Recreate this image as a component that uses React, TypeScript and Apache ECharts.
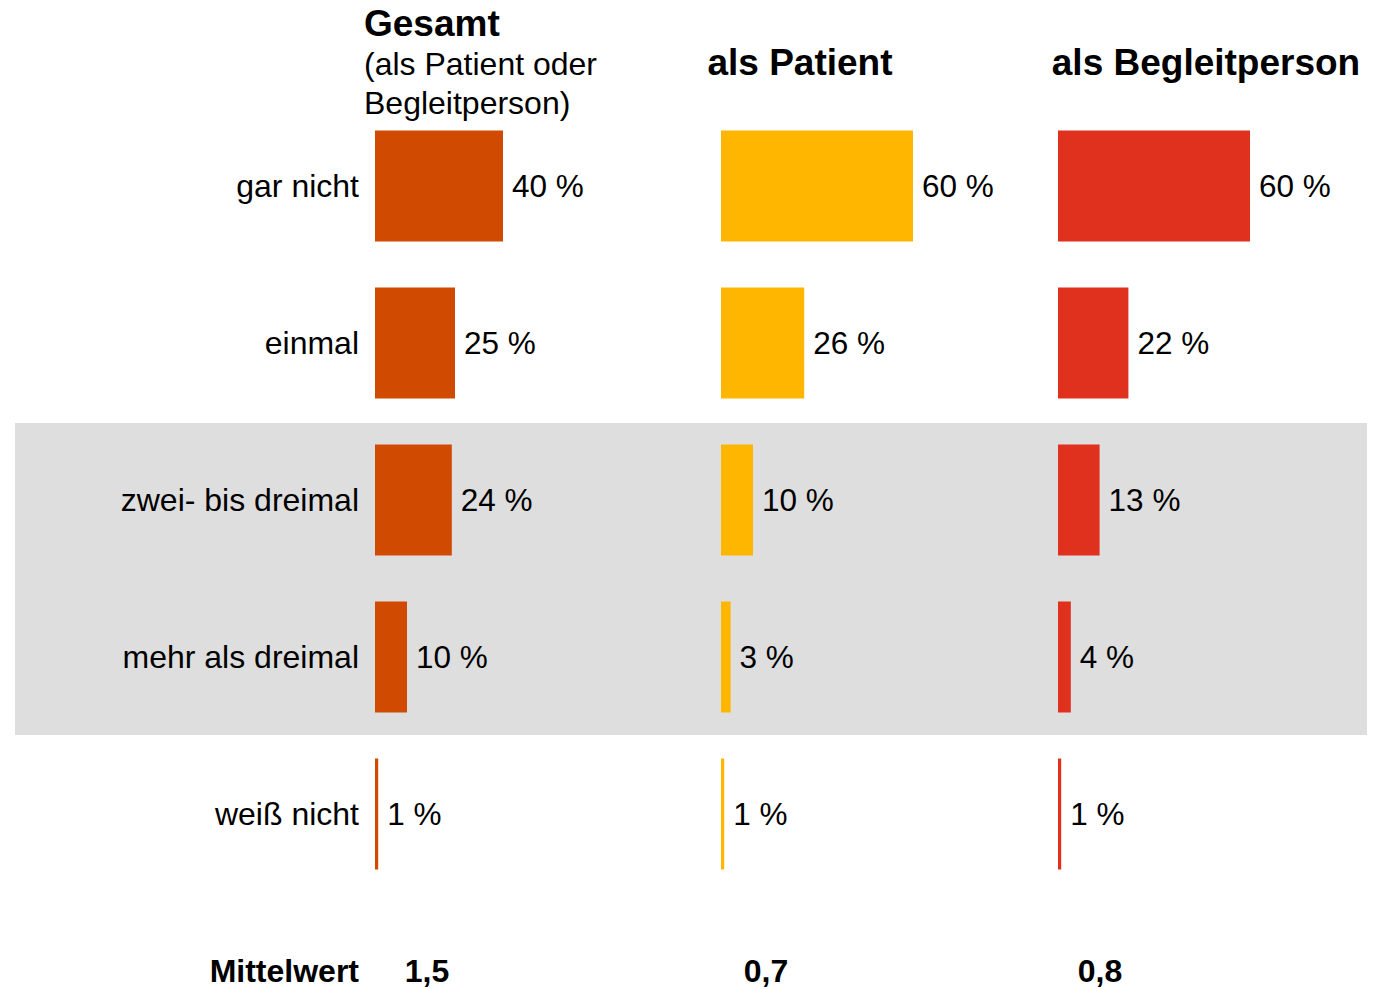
import React, { useEffect, useRef } from "react";
import * as echarts from "echarts";

const categories = ["gar nicht", "einmal", "zwei- bis dreimal", "mehr als dreimal", "weiß nicht"];
const gesamt = [40, 25, 24, 10, 1];
const patient = [60, 26, 10, 3, 1];
const begleit = [60, 22, 13, 4, 1];
const mittelwertLabel = "Mittelwert";
const mittelwerte = ["1,5", "0,7", "0,8"];
const panelTitles = ["als Patient", "als Begleitperson"];

const FONT = "'Liberation Sans', Arial, sans-serif";
const colors = ["#D04A02", "#FFB600", "#E0301E"];
const lefts = [375, 721, 1058];
const mwX = [427, 766, 1100];

export default function App() {
  const ref = useRef<HTMLDivElement>(null);
  useEffect(() => {
    if (!ref.current) return;
    const chart = echarts.init(ref.current, null, { renderer: "svg" });
    const seriesData = [gesamt, patient, begleit];
    const grids = lefts.map((l) => ({ left: l, top: 107.5, width: 320, height: 785, containLabel: false }));
    const xAxes = lefts.map((_, i) => ({
      type: "value", gridIndex: i, min: 0, max: 100, show: false,
    }));
    const yAxes = lefts.map((_, i) => ({
      type: "category",
      gridIndex: i,
      inverse: true,
      data: categories,
      axisLine: { show: false },
      axisTick: { show: false },
      splitLine: { show: false },
      axisLabel: {
        show: i === 0,
        margin: 16,
        fontSize: 32,
        color: "#000",
        fontFamily: FONT,
      },
    }));
    const series = seriesData.map((d, i) => ({
      type: "bar",
      xAxisIndex: i,
      yAxisIndex: i,
      data: d,
      barWidth: 111,
      itemStyle: { color: colors[i] },
      label: {
        show: true,
        position: "right",
        distance: 9,
        formatter: "{c} %",
        fontSize: 31.5,
        color: "#000",
        fontFamily: FONT,
      },
      z: 2,
    }));
    chart.setOption({
      animation: false,
      backgroundColor: "#fff",
      grid: grids,
      xAxis: xAxes,
      yAxis: yAxes,
      series,
      graphic: [
        {
          type: "rect",
          z: -10,
          shape: { x: 15, y: 423, width: 1352, height: 312 },
          style: { fill: "#DEDEDE" },
          silent: true,
        },
        {
          type: "text", x: 364, y: 23,
          style: { text: "Gesamt", font: `bold 37px ${FONT}`, fill: "#000", textVerticalAlign: "middle" },
        },
        {
          type: "text", x: 364, y: 64,
          style: { text: "(als Patient oder", font: `32px ${FONT}`, fill: "#000", textVerticalAlign: "middle" },
        },
        {
          type: "text", x: 364, y: 103,
          style: { text: "Begleitperson)", font: `32px ${FONT}`, fill: "#000", textVerticalAlign: "middle" },
        },
        {
          type: "text", x: 800, y: 62,
          style: { text: panelTitles[0], font: `bold 37px ${FONT}`, fill: "#000", textAlign: "center", textVerticalAlign: "middle" },
        },
        {
          type: "text", x: 1206, y: 62,
          style: { text: panelTitles[1], font: `bold 37px ${FONT}`, fill: "#000", textAlign: "center", textVerticalAlign: "middle" },
        },
        {
          type: "text", x: 359, y: 971,
          style: { text: mittelwertLabel, font: `bold 32px ${FONT}`, fill: "#000", textAlign: "right", textVerticalAlign: "middle" },
        },
        ...mittelwerte.map((m, i) => ({
          type: "text", x: mwX[i], y: 971,
          style: { text: m, font: `bold 32px ${FONT}`, fill: "#000", textAlign: "center", textVerticalAlign: "middle" },
        })),
      ],
    });
    return () => chart.dispose();
  }, []);
  return (
    <div
      ref={ref}
      style={{ position: "fixed", left: 0, top: 0, width: 1385, height: 989 }}
    />
  );
}
